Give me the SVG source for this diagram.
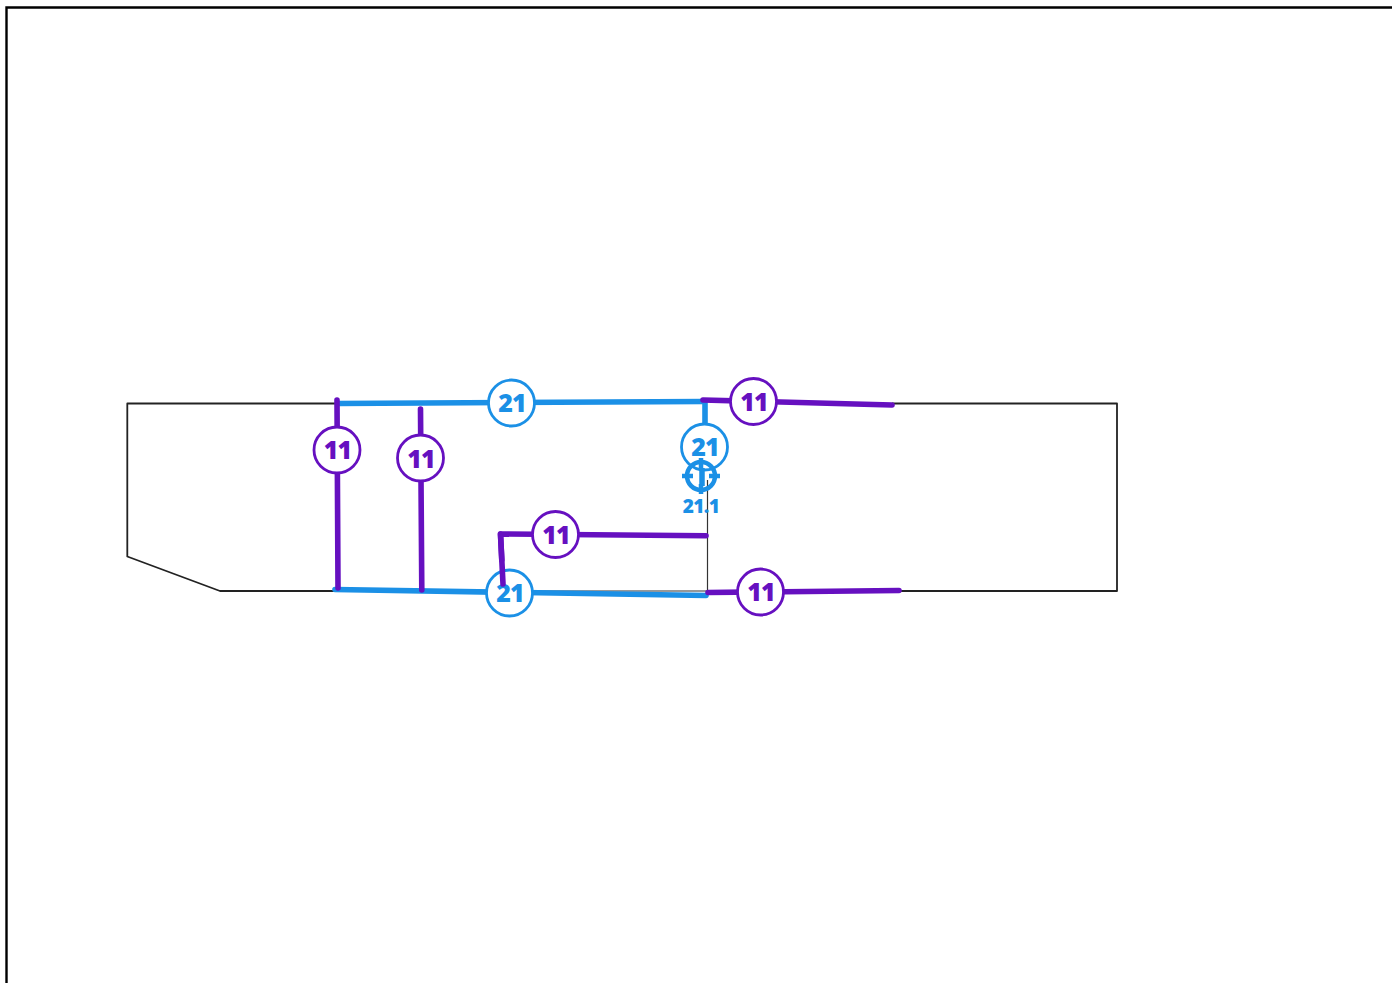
<svg xmlns="http://www.w3.org/2000/svg" width="1392" height="983" viewBox="0 0 1392 983">
<style>
text{font-family:"Open Sans","Noto Sans",sans-serif;font-weight:800;text-anchor:middle}
.outline{fill:none;stroke:#222;stroke-width:1.800;stroke-linejoin:round}
.thin{fill:none;stroke:#333;stroke-width:1.200}
.b,.p{fill:none;stroke-width:5.600;stroke-linecap:round;stroke-linejoin:round}
.b{stroke:#1b90e6}.p{stroke:#6610c0}
.cb,.cp{fill:#fff;stroke-width:2.800}
.cb{stroke:#1b90e6}.cp{stroke:#6610c0}
.tb,.tp{font-size:25px;letter-spacing:-0.8px}
.tb{fill:#1b90e6}.tp{fill:#6610c0}
</style>
<rect width="1392" height="983" fill="#fff"/>
<path d="M6.500 983V7.500H1392" fill="none" stroke="#000" stroke-width="2.400"/>
<g id="outline">
<path class="outline" d="M335 403.500H127.300V556.500L220 591H335"/>
<path class="outline" d="M892 403.500H1117V591H900"/>
<path class="thin" d="M707.500 480V596"/>
<path class="thin" d="M530 591H707"/>
</g>
<g id="connectors">
<path class="b" d="M338 403.500L704 401.500"/>
<path class="b" d="M705 402V430"/>
<path class="b" d="M335 589.500L706 595.500"/>
<path class="p" d="M337 400L338 588"/>
<path class="p" d="M420.500 409L421.800 590"/>
<path class="p" d="M501.800 560L500.500 534L706 535.800"/>
<path class="p" d="M703 400L892 405"/>
<path class="p" d="M708 592.500L899 590.500"/>
</g>
<g id="n21-top"><circle class="cb" cx="511.500" cy="403" r="23"/><text class="tb" x="512" y="412">21</text></g>
<g id="n21-bottom"><circle class="cb" cx="509.500" cy="593" r="23"/><text class="tb" x="510" y="602">21</text></g>
<path class="p" d="M500.500 534L503 584"/>
<g id="n21-right"><circle class="cb" cx="704.500" cy="447" r="23"/><text class="tb" x="705" y="456">21</text></g>
<g id="n11-a"><circle class="cp" cx="337" cy="450" r="23"/><text class="tp" x="337.500" y="459">11</text></g>
<g id="n11-b"><circle class="cp" cx="420.500" cy="458" r="23"/><text class="tp" x="421" y="468">11</text></g>
<g id="n11-c"><circle class="cp" cx="555.500" cy="534.500" r="23"/><text class="tp" x="556" y="544">11</text></g>
<g id="n11-d"><circle class="cp" cx="753.500" cy="401.500" r="23"/><text class="tp" x="754" y="411">11</text></g>
<g id="n11-e"><circle class="cp" cx="760.500" cy="592" r="23"/><text class="tp" x="761" y="601">11</text></g>
<g id="target-21-1">
<circle cx="701" cy="476" r="14" fill="none" stroke="#1b90e6" stroke-width="4.500"/>
<path d="M701 458V468M701 484V494M682 476H693M709 476H720" stroke="#1b90e6" stroke-width="4.500" fill="none"/>
<path d="M702 468V486" stroke="#1b90e6" stroke-width="5.500" fill="none"/>
<text x="701" y="513" font-size="19" letter-spacing="-0.6" fill="#1b90e6">21.1</text>
</g>
</svg>
